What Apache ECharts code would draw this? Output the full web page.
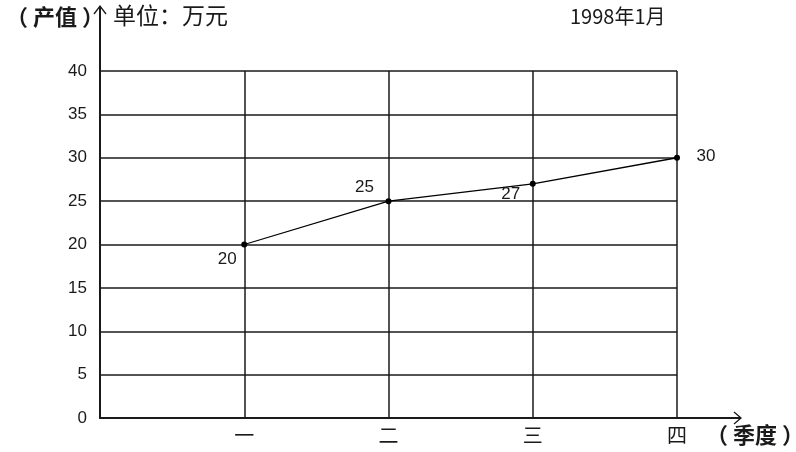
<!DOCTYPE html>
<html>
<head>
<meta charset="utf-8">
<script src="https://cdn.jsdelivr.net/npm/echarts@6/dist/echarts.min.js"></script>
<style>
  html, body { margin: 0; padding: 0; background: #fff; }
  #chart { width: 796px; height: 452px; }
</style>
</head>
<body>
<div id="chart"></div>
<script>
// Quarterly output value (unit: 10k yuan)
const quarters = ['一', '二', '三', '四'];
const outputValues = [20, 25, 27, 30];
const yTicks = { min: 0, max: 40, step: 5 };

const CJK = '"Noto Sans CJK SC", sans-serif';
const NUM = '"Liberation Sans", Arial, sans-serif';
const INK = '#1a1a1a';

// label offsets for each point (relative to the point)
const labelOffsets = [[-17, 15], [-24, -14], [-22, 11], [29, -1]];

const chart = echarts.init(document.getElementById('chart'));
chart.setOption({
  animation: false,
  grid: { left: 100, right: 119, top: 71, bottom: 34 },
  xAxis: {
    type: 'category',
    boundaryGap: false,
    data: [''].concat(quarters),
    axisLine: { lineStyle: { color: INK, width: 2 } },
    axisTick: { show: false },
    axisLabel: { color: INK, fontFamily: CJK, fontSize: 20, margin: 7 },
    splitLine: { show: true, lineStyle: { color: INK, width: 1.5 } }
  },
  yAxis: {
    type: 'value',
    min: yTicks.min,
    max: yTicks.max,
    interval: yTicks.step,
    axisLine: { show: true, lineStyle: { color: INK, width: 2 } },
    axisTick: { show: false },
    axisLabel: { color: INK, fontFamily: NUM, fontSize: 17, margin: 13 },
    splitLine: { show: true, lineStyle: { color: INK, width: 1.5 } }
  },
  series: [{
    type: 'line',
    data: quarters.map((q, i) => ({
      value: [q, outputValues[i]],
      label: { offset: labelOffsets[i] }
    })),
    symbol: 'circle',
    symbolSize: 6,
    itemStyle: { color: '#000' },
    lineStyle: { color: '#000', width: 1.3 },
    label: {
      show: true,
      position: 'inside',
      color: INK,
      fontFamily: NUM,
      fontSize: 17,
      formatter: p => p.value[1]
    }
  }],
  graphic: [
    // y axis extension with arrow head
    { type: 'polyline', shape: { points: [[100, 71], [100, 6]] }, style: { stroke: INK, lineWidth: 2, fill: null } },
    { type: 'polyline', shape: { points: [[94, 14], [100, 6], [106, 14]] }, style: { stroke: INK, lineWidth: 1.3, fill: null } },
    // x axis extension with arrow head
    { type: 'polyline', shape: { points: [[677, 418], [741, 418]] }, style: { stroke: INK, lineWidth: 2, fill: null } },
    { type: 'polyline', shape: { points: [[734, 412], [741, 418], [734, 424]] }, style: { stroke: INK, lineWidth: 1.3, fill: null } },
    // titles and units
    { type: 'text', left: 6, top: 6, style: { text: '（ 产值 ）', font: 'bold 22px ' + CJK, fill: INK } },
    { type: 'text', left: 113, top: 4, style: { text: '单位：万元', font: '23px ' + CJK, fill: INK } },
    { type: 'text', left: 570, top: 6, style: { text: '1998年1月', font: '20px ' + CJK, fill: INK } },
    { type: 'text', left: 706, top: 424, style: { text: '（ 季度 ）', font: 'bold 22px ' + CJK, fill: INK } }
  ]
});
</script>
</body>
</html>
